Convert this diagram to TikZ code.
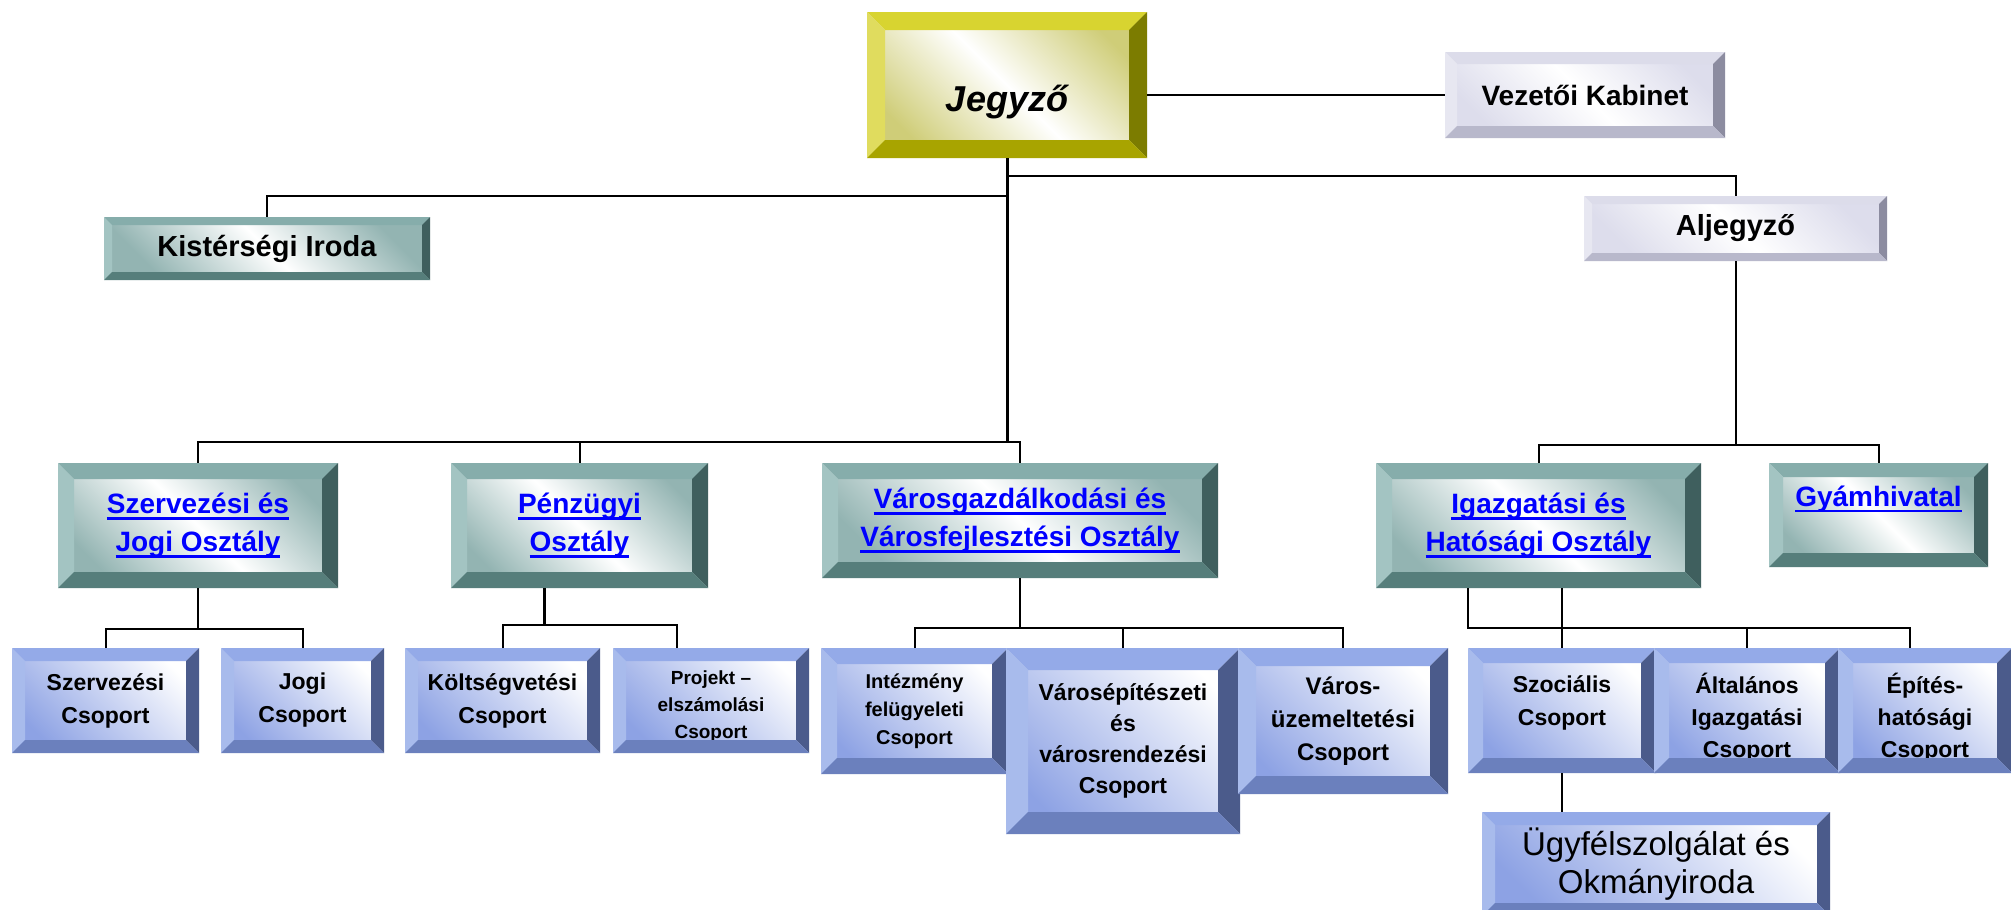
\documentclass[tikz,border=0pt]{standalone}
\usepackage{fontspec}
\setmainfont{Liberation Sans}
\usepackage{tikz}
\usetikzlibrary{calc}

\definecolor{linkblue}{HTML}{0000FF}
% bevel colours: t = top, l = left, r = right, b = bottom, s = shade
\definecolor{yl-t}{HTML}{D8D430}
\definecolor{yl-l}{HTML}{E0DC5E}
\definecolor{yl-r}{HTML}{7C7C00}
\definecolor{yl-b}{HTML}{A8A400}
\definecolor{yl-s}{HTML}{CFCD78}
\definecolor{lv-t}{HTML}{DCDCEA}
\definecolor{lv-l}{HTML}{E7E7F1}
\definecolor{lv-r}{HTML}{8C8CA0}
\definecolor{lv-b}{HTML}{B8B8CB}
\definecolor{lv-s}{HTML}{DDDDEC}
\definecolor{tl-t}{HTML}{86ADAB}
\definecolor{tl-l}{HTML}{A3C4C2}
\definecolor{tl-r}{HTML}{3F5F5E}
\definecolor{tl-b}{HTML}{567E7B}
\definecolor{tl-s}{HTML}{93B4B2}
\definecolor{bl-t}{HTML}{94AAE8}
\definecolor{bl-l}{HTML}{A8BBEC}
\definecolor{bl-r}{HTML}{4B5B8B}
\definecolor{bl-b}{HTML}{6B80BD}
\definecolor{bl-s}{HTML}{8DA2E4}

\newsavebox\lnkbox
\newcommand\lnk[1]{{\color{linkblue}\sbox\lnkbox{#1}\rlap{\rule[-6pt]{\wd\lnkbox}{2.5pt}}\usebox\lnkbox}}
\newcommand\fs[2]{\fontsize{#1}{#2}\selectfont}
\newcommand\up[1]{\rule{0pt}{#1}}

\begin{document}
\begin{tikzpicture}[
            x = 1pt, y = -1pt, % one unit = one pixel, y downwards
            line width = 2pt,
            box/.style = {rectangle, inner sep = 0pt, align = center}
        ]

        \tikzstyle{yellow box}=[box, left color=yl-s, right color=yl-s, middle color=white, shading angle=135]
        \tikzstyle{lav box}=[box, left color=lv-s, right color=lv-s, middle color=white, shading angle=135]
        \tikzstyle{teal box}=[box, left color=tl-s, right color=tl-s, middle color=white, shading angle=135]
        \tikzstyle{blue box}=[box, top color=bl-s, bottom color=white, shading angle=135]

        \useasboundingbox[fill=white] (0,0) rectangle (2011,910);

        \node[yellow box, minimum width=278, minimum height=144, font=\fs{36}{40}\bfseries\itshape, text height=60pt, text depth=8pt] (J) at (1007,85) {Jegyző};
        \node[lav box, minimum width=278, minimum height=84, font=\fs{28}{34}\bfseries] (VK) at (1585,95) {Vezetői Kabinet};
        \node[teal box, minimum width=324, minimum height=61, font=\fs{29}{34}\bfseries] (KI) at (267,248.5) {Kistérségi Iroda};
        \node[lav box, minimum width=301, minimum height=63, font=\fs{29}{34}\bfseries] (AJ) at (1735.5,228.5) {Aljegyző};

        \node[teal box, minimum width=278, minimum height=123, font=\fs{28}{38}\bfseries] (SZO) at (198,525.5) {\lnk{Szervezési és}\\\lnk{Jogi Osztály}};
        \node[teal box, minimum width=255, minimum height=123, font=\fs{28}{38}\bfseries] (PO) at (579.5,525.5) {\lnk{Pénzügyi}\\\lnk{Osztály}};
        \node[teal box, minimum width=394, minimum height=113, font=\fs{28}{38}\bfseries] (VO) at (1020,520.5) {\lnk{Városgazdálkodási és}\\\lnk{Városfejlesztési Osztály}};
        \node[teal box, minimum width=323, minimum height=123, font=\fs{28}{38}\bfseries] (IO) at (1538.5,525.5) {\lnk{Igazgatási és}\\\lnk{Hatósági Osztály}};
        \node[teal box, minimum width=217, minimum height=102, font=\fs{28}{38}\bfseries] (GY) at (1878.5,515) {\lnk{Gyámhivatal}\\\mbox{}};

        \node[blue box, minimum width=185, minimum height=103, font=\fs{23}{33}\bfseries] (SZC) at (105.5,700.5) {Szervezési\\Csoport};
        \node[blue box, minimum width=161, minimum height=103, font=\fs{23}{33}\bfseries] (JC) at (302.5,700.5) {Jogi\\Csoport};
        \node[blue box, minimum width=193, minimum height=103, font=\fs{23}{33}\bfseries] (KC) at (502.5,700.5) {Költségvetési\\Csoport};
        \node[blue box, minimum width=194, minimum height=103, font=\fs{19}{27}\bfseries] (PC) at (711,700.5) {\up{26pt}Projekt –\\elszámolási\\Csoport};
        \node[blue box, minimum width=185, minimum height=124, font=\fs{20}{28}\bfseries] (IC) at (914.5,711) {Intézmény\\felügyeleti\\Csoport};
        \node[blue box, minimum width=232, minimum height=184, font=\fs{23}{31}\bfseries] (VEC) at (1123,741) {Városépítészeti\\és\\városrendezési\\Csoport};
        \node[blue box, minimum width=208, minimum height=144, font=\fs{24}{33}\bfseries] (VUC) at (1343,721) {Város-\\üzemeltetési\\Csoport};
        \node[blue box, minimum width=186, minimum height=123, font=\fs{23}{33}\bfseries] (SC) at (1562,710.5) {\up{29pt}Szociális\\Csoport\\\mbox{}};
        \node[blue box, minimum width=184, minimum height=123, font=\fs{23}{32}\bfseries] (AC) at (1747,710.5) {\up{34pt}Általános\\Igazgatási\\Csoport};
        \node[blue box, minimum width=172, minimum height=123, font=\fs{23}{32}\bfseries] (EC) at (1925,710.5) {\up{34pt}Építés-\\hatósági\\Csoport};
        \node[blue box, minimum width=346, minimum height=102, font=\fs{33}{38}] (UO) at (1656,864) {Ügyfélszolgálat és\\Okmányiroda};

        % bevelled frames, drawn over the text
        \foreach \nm/\bw/\col in {J/18/yl, VK/12/lv, KI/8/tl, AJ/8/lv,
                SZO/16/tl, PO/16/tl, VO/16/tl, IO/16/tl, GY/14/tl,
                SZC/13/bl, JC/13/bl, KC/13/bl, PC/13/bl, IC/16/bl, VEC/22/bl,
                VUC/18/bl, SC/15/bl, AC/15/bl, EC/15/bl, UO/13/bl}{
            \fill[fill=\col-t] (\nm.north west) -- (\nm.north east) -- ([shift={(-\bw,\bw)}]\nm.north east) -- ([shift={(\bw,\bw)}]\nm.north west) -- cycle;
            \fill[fill=\col-l] (\nm.north west) -- (\nm.south west) -- ([shift={(\bw,-\bw)}]\nm.south west) -- ([shift={(\bw,\bw)}]\nm.north west) -- cycle;
            \fill[fill=\col-r] (\nm.north east) -- (\nm.south east) -- ([shift={(-\bw,-\bw)}]\nm.south east) -- ([shift={(-\bw,\bw)}]\nm.north east) -- cycle;
            \fill[fill=\col-b] (\nm.south west) -- (\nm.south east) -- ([shift={(-\bw,-\bw)}]\nm.south east) -- ([shift={(\bw,-\bw)}]\nm.south west) -- cycle;
        }

        \coordinate (busA) at (0,196);
        \coordinate (busB) at (0,176);
        \coordinate (busC) at (0,442);
        \coordinate (busD) at (0,445);
        \coordinate (busE) at (0,629);
        \coordinate (busP) at (0,625);
        \coordinate (busF) at (0,628);
        \coordinate (pdrop) at ([xshift=-35.5pt]PO.south);

        \draw (VK.west -| J.east) -- (VK.west);
        \draw[line width=3pt] (J.south) -- (J.south |- busC);
        \draw (J.south |- busA) -| (KI.north);
        \draw (J.south |- busB) -| (AJ.north);
        \draw (J.south |- busC) -| (SZO.north);
        \draw (PO.north |- busC) -- (PO.north);
        \draw (J.south |- busC) -| (VO.north);

        \draw (AJ.south) -- (AJ.south |- busD);
        \draw (IO.north) |- (AJ.south |- busD) -| (GY.north);

        \draw (SZO.south) -- (SZO.south |- busE);
        \draw (SZC.north) |- (SZO.south |- busE) -| (JC.north);
        \draw[line width=3pt] (pdrop) -- (pdrop |- busP);
        \draw (KC.north) |- (pdrop |- busP) -| ([xshift=-34pt]PC.north);
        \draw (VO.south) -- (VO.south |- busF);
        \draw (IC.north) |- (VO.south |- busF) -| (VUC.north);
        \draw (VEC.north) -- (VEC.north |- busF);

        \draw (IO.south -| SC.north west) |- (AC.north |- busF) -| ([xshift=-15pt]EC.north);
        \draw (IO.south -| SC.north) -- (SC.north);
        \draw (AC.north) -- (AC.north |- busF);
        \draw (SC.south) -- (SC.south |- UO.north);
    \end{tikzpicture}
\end{document}
